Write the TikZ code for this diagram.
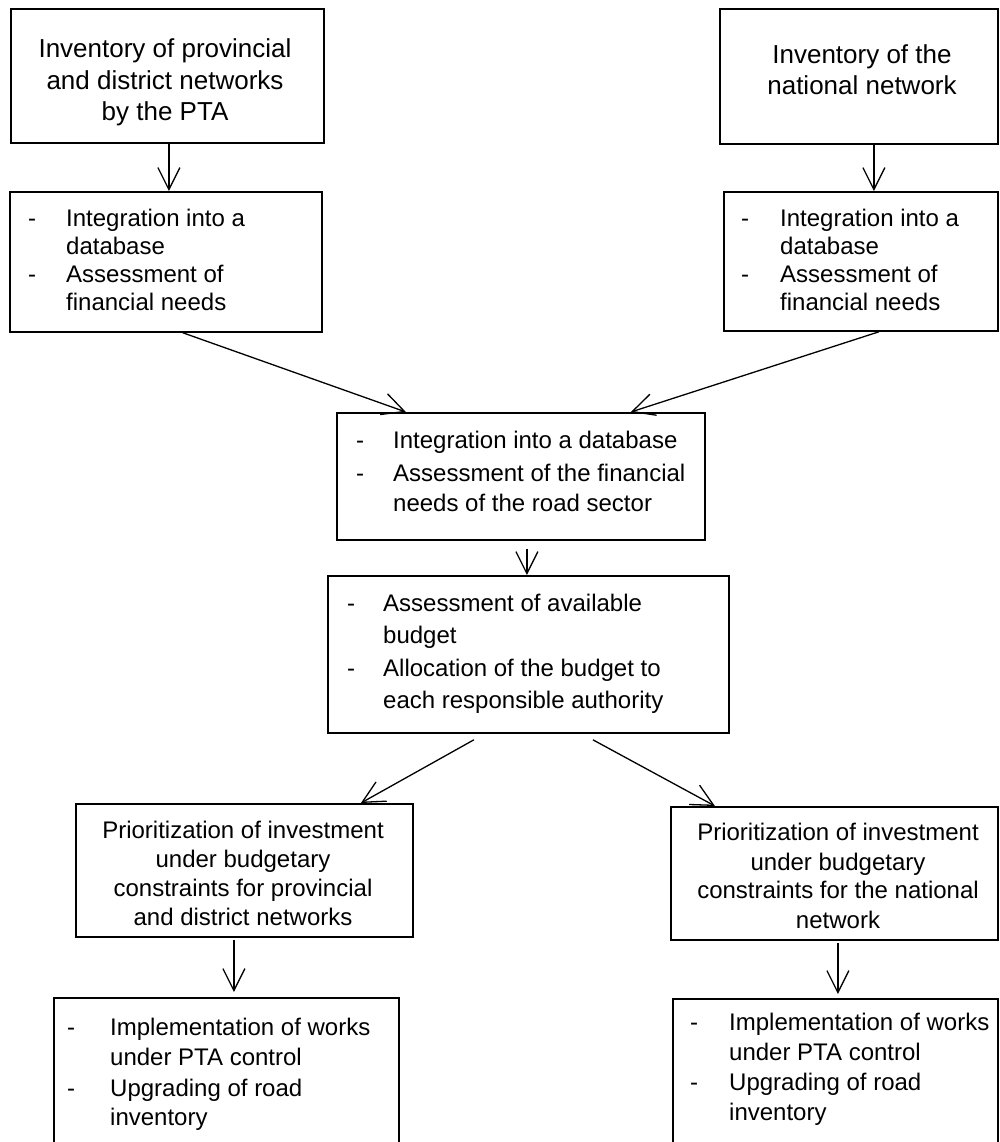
\documentclass[tikz,border=0pt]{standalone}
\usepackage{fontspec}
\setmainfont{Liberation Sans}
\usetikzlibrary{arrows.meta}
\newcommand\mybox[5]{\node[box, anchor=north west, minimum width={#4-#2}, minimum height={#5-#3}] (#1) at (#2,#3) {};}
\newcommand\tlft[4]{\node[txt, anchor=base west] (#1) at (#2,#3) {#4};}
\newcommand\tctr[4]{\node[txt, anchor=base] (#1) at (#2,#3) {#4};}
\begin{document}
\begin{tikzpicture}[x=1pt,y=-1pt,
  box/.style={draw, line width=1.8pt, inner sep=0pt},
  conn/.style={line width=1.3pt, -{Straight Barb[length=22pt,width=22pt]}},
  txt/.style={font=\fontsize{24}{29}\selectfont, inner sep=0pt}]
\useasboundingbox (0,0) rectangle (1000,1142);
\clip (0,0) rectangle (1000,1142);
% boxes
\mybox{b1}{10}{8}{323}{142}
\mybox{b2}{9}{191}{321}{331}
\mybox{b3}{719}{8}{997}{143}
\mybox{b4}{723}{191}{997}{330}
\mybox{b5}{336}{412}{704}{539}
\mybox{b6}{327}{575}{728}{732}
\mybox{b7}{75}{803}{412}{936}
\mybox{b8}{670}{806}{997}{939}
\mybox{b9}{53}{997}{398}{1200}
\mybox{b10}{672}{998}{997}{1200}
% texts
\tctr{t1a}{165}{58}{\fontsize{26}{31}\selectfont Inventory of provincial}
\tctr{t1b}{165}{90}{\fontsize{26}{31}\selectfont and district networks}
\tctr{t1c}{165}{121}{\fontsize{26}{31}\selectfont by the PTA}
\tctr{t3a}{862}{64}{\fontsize{26}{31}\selectfont Inventory of the}
\tctr{t3b}{862}{95}{\fontsize{26}{31}\selectfont national network}
% box 2
\tlft{d2a}{28}{226}{-}
\tlft{t2a}{66}{226}{Integration into a}
\tlft{t2b}{66}{254}{database}
\tlft{d2b}{28}{282}{-}
\tlft{t2c}{66}{282}{Assessment of}
\tlft{t2d}{66}{310}{financial needs}
% box 4
\tlft{d4a}{741}{226}{-}
\tlft{t4a}{780}{226}{Integration into a}
\tlft{t4b}{780}{254}{database}
\tlft{d4b}{741}{282}{-}
\tlft{t4c}{780}{282}{Assessment of}
\tlft{t4d}{780}{310}{financial needs}
% box 5
\tlft{d5a}{356}{448}{-}
\tlft{t5a}{393}{448}{Integration into a database}
\tlft{d5b}{356}{481}{-}
\tlft{t5b}{393}{481}{Assessment of the financial}
\tlft{t5c}{393}{511}{needs of the road sector}
% box 6
\tlft{d6a}{347}{611}{-}
\tlft{t6a}{383}{611}{Assessment of available}
\tlft{t6b}{383}{643}{budget}
\tlft{d6b}{347}{676}{-}
\tlft{t6c}{383}{676}{Allocation of the budget to}
\tlft{t6d}{383}{708}{each responsible authority}
% box 7
\tctr{t7a}{243}{838}{Prioritization of investment}
\tctr{t7b}{243}{867}{under budgetary}
\tctr{t7c}{243}{896}{constraints for provincial}
\tctr{t7d}{243}{925}{and district networks}
% box 8
\tctr{t8a}{838}{840}{Prioritization of investment}
\tctr{t8b}{838}{870}{under budgetary}
\tctr{t8c}{838}{898}{constraints for the national}
\tctr{t8d}{838}{928}{network}
% box 9
\tlft{d9a}{67}{1035}{-}
\tlft{t9a}{110}{1035}{Implementation of works}
\tlft{t9b}{110}{1065}{under PTA control}
\tlft{d9b}{67}{1096}{-}
\tlft{t9c}{110}{1096}{Upgrading of road}
\tlft{t9d}{110}{1125}{inventory}
% box 10
\tlft{d10a}{690}{1030}{-}
\tlft{t10a}{729}{1030}{Implementation of works}
\tlft{t10b}{729}{1060}{under PTA control}
\tlft{d10b}{690}{1090}{-}
\tlft{t10c}{729}{1090}{Upgrading of road}
\tlft{t10d}{729}{1120}{inventory}
% connectors
\draw[conn] ([xshift=1.5pt]b1.south) -- ([xshift=1.5pt]b1.south |- b2.north);
\draw[conn] ([xshift=15pt]b3.south) -- ([xshift=15pt]b3.south |- b4.north);
\draw[conn] ([xshift=17pt]b2.south) -- ([xshift=-115pt]b5.north);
\draw[conn] ([xshift=18pt]b4.south) -- ([xshift=110pt]b5.north);
\draw[conn] ([xshift=6pt,yshift=-8pt]b5.south) -- ([xshift=6pt]b5.south |- b6.north);
\draw[conn] ([xshift=-54.5pt,yshift=-6pt]b6.south) -- ([xshift=116.5pt]b7.north);
\draw[conn] ([xshift=64.5pt,yshift=-6pt]b6.south) -- ([xshift=-119.5pt]b8.north);
\draw[conn] ([xshift=-10.5pt,yshift=-2pt]b7.south) -- ([xshift=-10.5pt,yshift=5pt]b7.south |- b9.north);
\draw[conn] ([xshift=3.5pt,yshift=-2pt]b8.south) -- ([xshift=3.5pt,yshift=4pt]b8.south |- b10.north);
\end{tikzpicture}
\end{document}
